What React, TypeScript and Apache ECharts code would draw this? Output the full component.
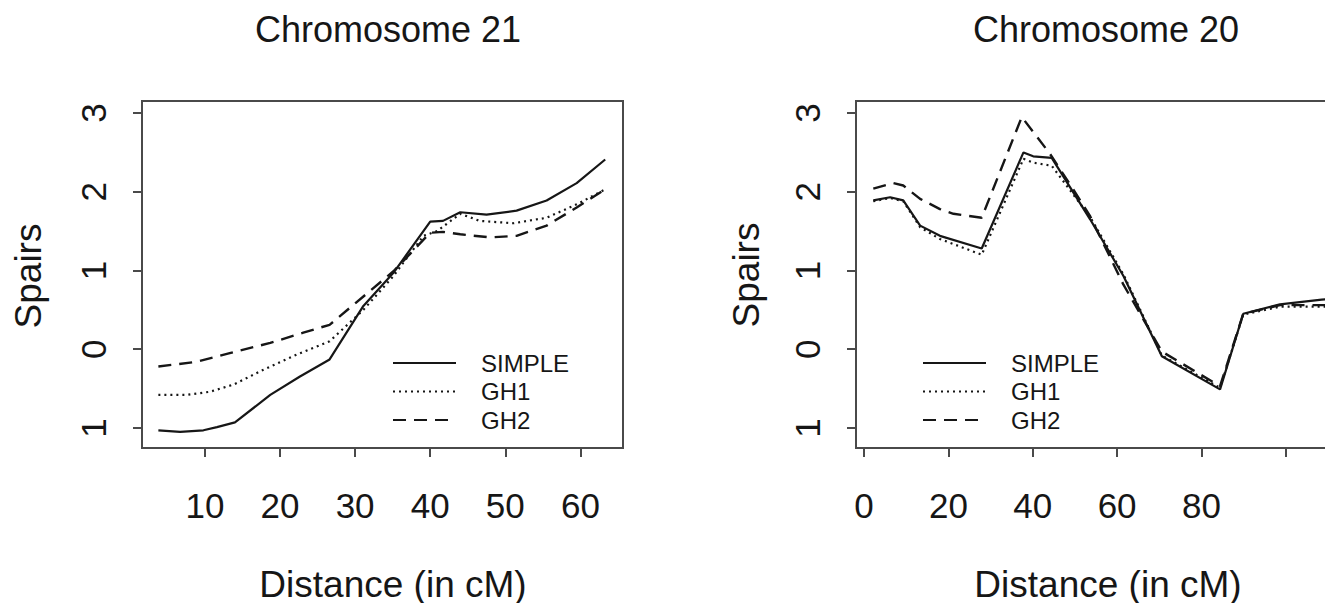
import React, { useEffect, useRef } from "react";
import * as echarts from "echarts";

// ---------- Data ----------
const seriesNames = ["SIMPLE", "GH1", "GH2"];

// Chromosome 21 (x = distance in cM)
const chr21X = [3.8, 6.7, 9.8, 11.6, 14.0, 18.7, 22.6, 26.6, 31.1, 35.1, 40.0, 41.7, 44.0, 47.5, 51.5, 55.5, 59.5, 63.3];
const chr21Simple = [-1.03, -1.05, -1.03, -0.99, -0.93, -0.58, -0.35, -0.13, 0.55, 0.97, 1.62, 1.63, 1.74, 1.71, 1.76, 1.89, 2.11, 2.41];
const chr21GH1X = [3.8, 7.6, 10.7, 13.8, 17.8, 22.2, 26.6, 31.1, 35.1, 39.1, 40.9, 44.0, 46.6, 51.1, 55.5, 59.5, 63.3];
const chr21GH1 = [-0.58, -0.58, -0.54, -0.45, -0.26, -0.07, 0.1, 0.5, 0.93, 1.44, 1.5, 1.72, 1.63, 1.6, 1.67, 1.84, 2.03];
const chr21GH2X = [3.8, 8.9, 13.3, 18.7, 23.1, 26.6, 31.1, 35.1, 40.0, 41.7, 44.0, 48.0, 51.5, 55.5, 59.5, 63.3];
const chr21GH2 = [-0.22, -0.16, -0.05, 0.08, 0.21, 0.31, 0.67, 0.99, 1.48, 1.49, 1.46, 1.42, 1.44, 1.57, 1.8, 2.03];

// Chromosome 20
const chr20X = [2.2, 6.2, 9.3, 13.3, 18.0, 27.9, 37.8, 40.1, 44.5, 53.6, 61.5, 70.6, 84.4, 89.9, 98.6, 108.5, 113.0];
const chr20Simple = [1.89, 1.93, 1.89, 1.57, 1.44, 1.28, 2.5, 2.45, 2.43, 1.65, 0.93, -0.09, -0.51, 0.45, 0.57, 0.63, 0.65];
const chr20GH1 = [1.88, 1.92, 1.88, 1.55, 1.4, 1.2, 2.42, 2.37, 2.33, 1.68, 0.95, -0.08, -0.49, 0.44, 0.54, 0.54, 0.54];
const chr20GH2X = [2.2, 6.9, 9.3, 13.3, 18.0, 21.2, 27.9, 37.4, 44.1, 49.6, 53.6, 61.5, 70.6, 84.4, 89.9, 98.6, 108.5, 113.0];
const chr20GH2 = [2.04, 2.11, 2.08, 1.91, 1.78, 1.72, 1.67, 2.95, 2.48, 2.03, 1.69, 0.82, -0.03, -0.47, 0.45, 0.56, 0.56, 0.56];

// Tick values / labels
const yTicks = [-1, 0, 1, 2, 3];
const yTickLabels = ["1", "0", "1", "2", "3"];
const chr21XTicks = [10, 20, 30, 40, 50, 60];
const chr20XTicks = [0, 20, 40, 60, 80, 100];
const chr20XLabels = ["0", "20", "40", "60", "80", ""];

const pairs = (xs: number[], ys: number[]) => xs.map((x, i) => [x, ys[i]]);

const FONT = "'Liberation Sans', Arial, Helvetica, sans-serif";
const INK = "#161616";
const BOX = "#4a4a4a";

export default function App() {
  const ref = useRef<HTMLDivElement>(null);

  useEffect(() => {
    if (!ref.current) return;
    const chart = echarts.init(ref.current, null, { renderer: "svg" });

    const styles: any[] = [
      { type: "solid", width: 2.2 },
      { type: [2, 4], width: 2.2 },
      { type: [13, 8], width: 2.4 },
    ];

    const yAxisBase = (gridIndex: number) => ({
      type: "value",
      gridIndex,
      min: -1.255,
      max: 3.153,
      splitLine: { show: false },
      axisLine: { show: false, onZero: false },
      axisTick: {
        show: true,
        length: 9,
        customValues: yTicks,
        lineStyle: { color: BOX, width: 2 },
      },
      axisLabel: {
        show: true,
        customValues: yTicks,
        rotate: 90,
        margin: 31,
        fontSize: 35,
        fontFamily: FONT,
        color: INK,
        formatter: (v: number) => {
          const i = yTicks.findIndex((t) => Math.abs(t - v) < 1e-6);
          return i >= 0 ? yTickLabels[i] : "";
        },
      },
    });

    const xAxisBase = (gridIndex: number, min: number, max: number, ticks: number[], labels: string[]) => ({
      type: "value",
      gridIndex,
      min,
      max,
      splitLine: { show: false },
      axisLine: { show: false, onZero: false },
      axisTick: {
        show: true,
        length: 9,
        customValues: ticks,
        lineStyle: { color: BOX, width: 2 },
      },
      axisLabel: {
        show: true,
        customValues: ticks,
        margin: 40,
        fontSize: 35,
        fontFamily: FONT,
        color: INK,
        formatter: (v: number) => {
          const i = ticks.findIndex((t) => Math.abs(t - v) < 1e-6);
          return i >= 0 ? labels[i] : "";
        },
      },
    });

    const mkSeries = (name: string, idx: number, data: number[][], k: number) => ({
      name,
      type: "line",
      xAxisIndex: idx,
      yAxisIndex: idx,
      data,
      symbol: "none",
      showSymbol: false,
      smooth: false,
      clip: true,
      lineStyle: { color: INK, ...styles[k] },
      itemStyle: { color: INK },
    });

    const legendBase = (left: number) => ({
      orient: "vertical",
      left,
      top: 346,
      itemWidth: 63,
      itemHeight: 24,
      itemGap: 4.5,
      data: seriesNames,
      selectedMode: false,
      itemStyle: { opacity: 0 },
      textStyle: {
        fontSize: 24,
        fontFamily: FONT,
        color: INK,
        padding: [0, 0, 0, 20],
      },
    });

    const text = (t: string, x: number, y: number, size: number, rot = 0) => ({
      type: "text",
      x,
      y,
      rotation: rot,
      style: {
        text: t,
        fontSize: size,
        fontFamily: FONT,
        fill: INK,
        textAlign: "center",
        textVerticalAlign: "middle",
      },
    });

    chart.setOption({
      animation: false,
      backgroundColor: "#ffffff",
      grid: [
        { left: 142, top: 101, width: 481, height: 347, show: true, borderColor: BOX, borderWidth: 2, backgroundColor: "transparent" },
        { left: 856, top: 101, width: 502, height: 347, show: true, borderColor: BOX, borderWidth: 2, backgroundColor: "transparent" },
      ],
      xAxis: [
        xAxisBase(0, 1.62, 65.67, chr21XTicks, chr21XTicks.map(String)),
        xAxisBase(1, -1.9, 117.1, chr20XTicks, chr20XLabels),
      ],
      yAxis: [yAxisBase(0), yAxisBase(1)],
      legend: [legendBase(387), legendBase(917)],
      series: [
        mkSeries("SIMPLE", 0, pairs(chr21X, chr21Simple), 0),
        mkSeries("GH1", 0, pairs(chr21GH1X, chr21GH1), 1),
        mkSeries("GH2", 0, pairs(chr21GH2X, chr21GH2), 2),
        mkSeries("SIMPLE", 1, pairs(chr20X, chr20Simple), 0),
        mkSeries("GH1", 1, pairs(chr20X, chr20GH1), 1),
        mkSeries("GH2", 1, pairs(chr20GH2X, chr20GH2), 2),
      ],
      graphic: [
        text("Chromosome 21", 388, 29, 36),
        text("Chromosome 20", 1106, 29, 36),
        text("Distance (in cM)", 393, 584, 37),
        text("Distance (in cM)", 1108, 584, 37),
        text("Spairs", 28, 276, 37, Math.PI / 2),
        text("Spairs", 746, 275, 37, Math.PI / 2),
      ],
    });

    return () => chart.dispose();
  }, []);

  return (
    <div style={{ position: "fixed", left: 0, top: 0, width: 1325, height: 603, overflow: "hidden", background: "#fff" }}>
      <div ref={ref} style={{ width: 1380, height: 603 }} />
    </div>
  );
}
